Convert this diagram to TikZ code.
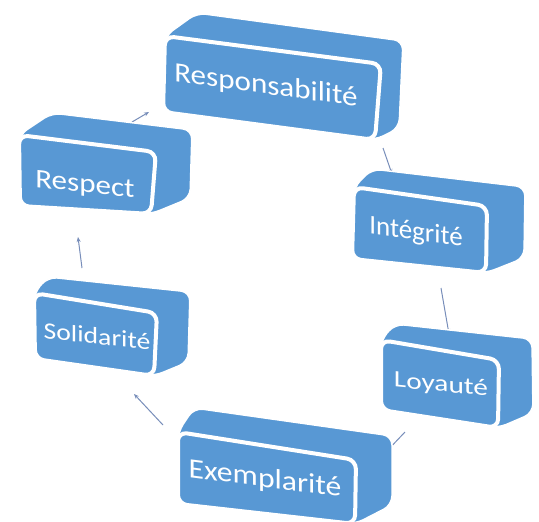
\documentclass[tikz,border=0pt]{standalone}
\usepackage{fontspec}
\setmainfont{Carlito}
\usetikzlibrary{arrows.meta}
\definecolor{boxblue}{RGB}{88,152,212}
\definecolor{linkcol}{RGB}{120,142,186}
\tikzset{
  link/.style={draw=linkcol, line width=1pt, -{Stealth[length=5pt,width=4pt]}},
  lbl/.style={text=white, inner sep=0pt, anchor=base, transform shape},
  hull/.style={fill=boxblue, draw=white, line width=1.5pt, rounded corners=9pt},
  face/.style={fill=boxblue, draw=white, line width=4pt, rounded corners=9pt}
}
% #1 fTL #2 fTR #3 fBR #4 fBL #5 bTL #6 bTR #7 bBR
\newcommand{\cubebox}[7]{%
  \path[hull] #1 -- #5 -- #6 -- #7 -- #3 -- #4 -- cycle;
  \path[face] #1 -- #2 -- #3 -- #4 -- cycle;
}
\begin{document}
\begin{tikzpicture}[x=1pt,y=-1pt]
\clip (0,0) rectangle (539,522);
\fill[white] (0,0) rectangle (539,522);

% connector end points
\coordinate (respect-out) at (132,122);
\coordinate (respons-in) at (149,112);
\coordinate (respons-out) at (383,148);
\coordinate (integ-in) at (392,174);
\coordinate (integ-out) at (441,288);
\coordinate (loyal-in) at (449,334);
\coordinate (loyal-out) at (405,432);
\coordinate (exemp-in) at (386,452);
\coordinate (exemp-out) at (163,425);
\coordinate (solid-in) at (134,394);
\coordinate (solid-out) at (82,268);
\coordinate (respect-in) at (78,237);

\draw[link] (respect-out) -- (respons-in);
\draw[link] (respons-out) -- (integ-in);
\draw[link] (integ-out) -- (loyal-in);
\draw[link] (loyal-out) -- (exemp-in);
\draw[link] (exemp-out) -- (solid-in);
\draw[link] (solid-out) -- (respect-in);

% boxes
\cubebox{(165,36)}{(381,64)}{(375,140)}{(163,112)}{(197,13)}{(403,41)}{(399,128)}
\cubebox{(19,135)}{(156,152)}{(151,214)}{(20,206)}{(52,113)}{(192,130)}{(190,198)}
\cubebox{(354,187)}{(487,206)}{(486,273)}{(352,259)}{(372,169)}{(525,187)}{(524,258)}
\cubebox{(34,293)}{(157,313)}{(154,376)}{(35,359)}{(48,277)}{(190,292)}{(188,362)}
\cubebox{(381,340)}{(499,360)}{(498,428)}{(381,410)}{(395,324)}{(532,339)}{(533,413)}
\cubebox{(178,432)}{(356,460)}{(355,524)}{(178,504)}{(194,408)}{(392,436)}{(392,505)}

% labels
\begin{scope}[shift={(266,94)}]
\node[lbl, yslant=-0.135, xscale=1.11, font=\fontsize{28}{30}\selectfont] (responsabilite) at (0,0) {Responsabilité};
\end{scope}
\begin{scope}[shift={(85,192.5)}]
\node[lbl, yslant=-0.11, xscale=1.15, font=\fontsize{27}{29}\selectfont] (respect) at (0,0) {Respect};
\end{scope}
\begin{scope}[shift={(416,240)}]
\node[lbl, yslant=-0.14, xscale=1.0, font=\fontsize{27}{29}\selectfont] (integrite) at (0,0) {Intégrité};
\end{scope}
\begin{scope}[shift={(97,344)}]
\node[lbl, yslant=-0.11, xscale=1.18, font=\fontsize{23.5}{25}\selectfont] (solidarite) at (0,0) {Solidarité};
\end{scope}
\begin{scope}[shift={(441,391.5)}]
\node[lbl, yslant=-0.10, xscale=1.25, font=\fontsize{23.5}{25}\selectfont] (loyaute) at (0,0) {Loyauté};
\end{scope}
\begin{scope}[shift={(265,487)}]
\node[lbl, yslant=-0.13, xscale=1.13, font=\fontsize{28}{30}\selectfont] (exemplarite) at (0,0) {Exemplarité};
\end{scope}
\end{tikzpicture}
\end{document}
